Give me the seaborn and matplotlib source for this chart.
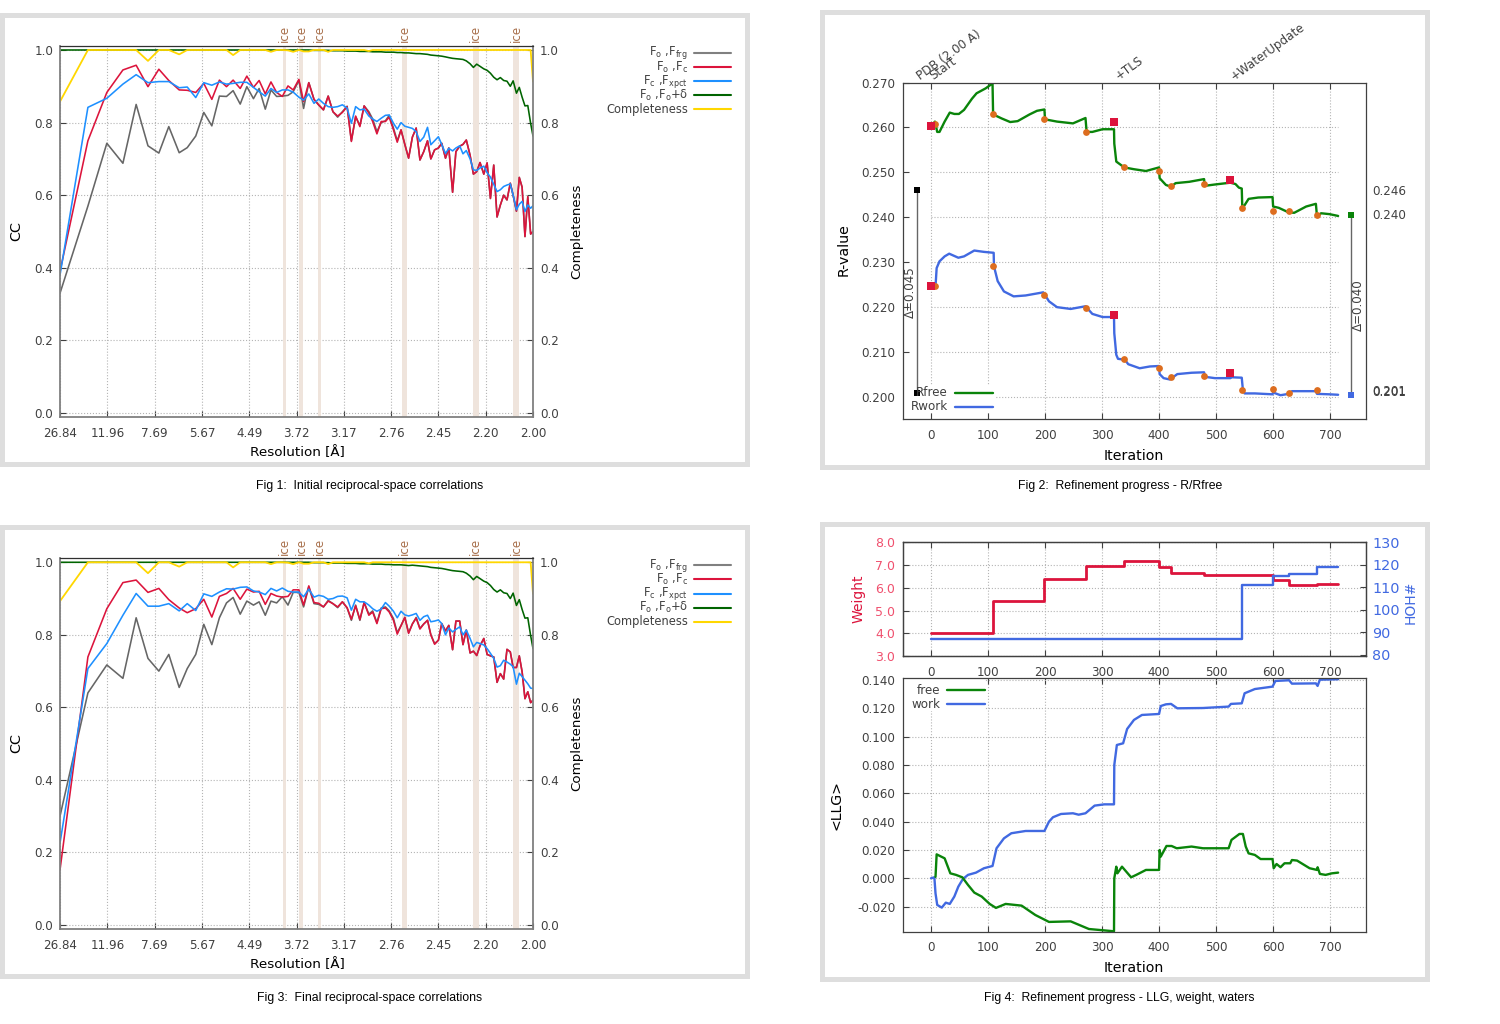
import matplotlib
matplotlib.use("Agg")
import matplotlib.pyplot as plt
from matplotlib.lines import Line2D
from matplotlib.patches import Rectangle
from matplotlib.transforms import blended_transform_factory
import seaborn as sns

WIDTH = 1500
HEIGHT = 1024

RES_LABELS = ["26.84", "11.96", "7.69", "5.67", "4.49", "3.72", "3.17", "2.76", "2.45", "2.20", "2.00"]
CC_TICKS = [0.0, 0.2, 0.4, 0.6, 0.8, 1.0]
ICE_BINS = [4.74, 5.10, 5.48, 7.29, 8.79, 9.64]
ICE_WIDTHS = [0.07, 0.09, 0.07, 0.11, 0.13, 0.11]

# resolution bins, in units of the evenly spaced tick labels
BINS = [
    0.00, 0.59, 0.99, 1.33, 1.61, 1.86, 2.09, 2.30, 2.52, 2.69,
    2.87, 3.04, 3.21, 3.37, 3.52, 3.66, 3.81, 3.95, 4.09, 4.21,
    4.34, 4.46, 4.58, 4.70, 4.82, 4.93, 5.05, 5.15, 5.26, 5.37,
    5.47, 5.57, 5.67, 5.77, 5.87, 5.97, 6.07, 6.16, 6.25, 6.34,
    6.43, 6.53, 6.61, 6.70, 6.79, 6.88, 6.96, 7.05, 7.13, 7.21,
    7.29, 7.37, 7.45, 7.53, 7.61, 7.69, 7.77, 7.84, 7.92, 8.00,
    8.07, 8.15, 8.22, 8.30, 8.37, 8.45, 8.52, 8.59, 8.67, 8.74,
    8.81, 8.88, 8.96, 9.03, 9.10, 9.17, 9.24, 9.31, 9.38, 9.45,
    9.52, 9.58, 9.65, 9.71, 9.77, 9.83, 9.89, 9.95, 10.00,
]

INITIAL_FRG = [
    0.33, 0.57, 0.743, 0.688, 0.85, 0.736, 0.716, 0.789, 0.717, 0.731,
    0.763, 0.828, 0.791, 0.873, 0.872, 0.888, 0.851, 0.899, 0.866, 0.894,
    0.837, 0.89, 0.872, 0.873, 0.875, 0.885, 0.916, 0.839, 0.91, 0.864,
    0.848, 0.835, 0.873, 0.83, 0.815, 0.83, 0.845, 0.75, 0.816, 0.792,
    0.846, 0.83, 0.81, 0.775, 0.80, 0.805, 0.82, 0.785, 0.75, 0.78,
    0.74, 0.702, 0.76, 0.785, 0.697, 0.72, 0.75, 0.70, 0.725, 0.73,
    0.743, 0.702, 0.73, 0.608, 0.72, 0.735, 0.74, 0.752, 0.71, 0.658,
    0.665, 0.69, 0.658, 0.689, 0.591, 0.683, 0.54, 0.573, 0.60, 0.587,
    0.633, 0.60, 0.556, 0.649, 0.622, 0.486, 0.596, 0.493, 0.50,
]
INITIAL_FC = [
    0.39, 0.75, 0.883, 0.945, 0.958, 0.899, 0.947, 0.916, 0.89, 0.889,
    0.883, 0.908, 0.864, 0.917, 0.899, 0.917, 0.894, 0.928, 0.897, 0.916,
    0.879, 0.912, 0.883, 0.872, 0.901, 0.89, 0.919, 0.858, 0.91, 0.864,
    0.849, 0.835, 0.873, 0.83, 0.818, 0.828, 0.844, 0.748, 0.818, 0.789,
    0.846, 0.826, 0.803, 0.769, 0.803, 0.803, 0.815, 0.78, 0.746, 0.78,
    0.74, 0.702, 0.76, 0.785, 0.697, 0.72, 0.75, 0.70, 0.725, 0.73,
    0.743, 0.702, 0.73, 0.608, 0.72, 0.735, 0.74, 0.752, 0.71, 0.658,
    0.665, 0.69, 0.658, 0.689, 0.591, 0.683, 0.54, 0.573, 0.60, 0.587,
    0.633, 0.60, 0.556, 0.649, 0.622, 0.486, 0.596, 0.493, 0.50,
]
INITIAL_XPCT = [
    0.38, 0.842, 0.867, 0.906, 0.932, 0.91, 0.913, 0.913, 0.896, 0.898,
    0.869, 0.91, 0.903, 0.912, 0.906, 0.908, 0.911, 0.911, 0.897, 0.885,
    0.873, 0.894, 0.883, 0.89, 0.89, 0.884, 0.87, 0.862, 0.879, 0.853,
    0.865, 0.853, 0.844, 0.842, 0.844, 0.849, 0.84, 0.798, 0.844, 0.835,
    0.837, 0.818, 0.81, 0.803, 0.812, 0.82, 0.821, 0.798, 0.782, 0.80,
    0.79, 0.787, 0.784, 0.775, 0.748, 0.76, 0.787, 0.739, 0.75, 0.761,
    0.74, 0.715, 0.729, 0.722, 0.73, 0.736, 0.714, 0.723, 0.70, 0.67,
    0.668, 0.675, 0.68, 0.662, 0.65, 0.63, 0.61, 0.615, 0.624, 0.628,
    0.631, 0.60, 0.56, 0.575, 0.583, 0.555, 0.573, 0.564, 0.571,
]
INITIAL_DELTA = [
    1.0, 1.0, 1.0, 1.0, 1.0, 1.0, 1.0, 1.0, 1.0, 1.0,
    1.0, 1.0, 1.0, 1.0, 1.0, 1.0, 1.0, 1.0, 1.0, 1.0,
    1.0, 1.0, 1.0, 1.0, 1.0, 1.0, 1.0, 1.0, 1.0, 0.999,
    0.999, 0.999, 0.999, 0.998, 0.998, 0.998, 0.997, 0.997, 0.997, 0.996,
    0.996, 0.996, 0.995, 0.995, 0.995, 0.994, 0.994, 0.994, 0.993, 0.993,
    0.992, 0.992, 0.991, 0.99, 0.99, 0.989, 0.988, 0.986, 0.985, 0.984,
    0.983, 0.981, 0.979, 0.977, 0.976, 0.975, 0.974, 0.97, 0.962, 0.952,
    0.961, 0.955, 0.948, 0.944, 0.936, 0.925, 0.918, 0.924, 0.916, 0.914,
    0.90, 0.915, 0.881, 0.897, 0.87, 0.846, 0.847, 0.798, 0.763,
]
INITIAL_COMPLETE = [
    0.858, 1.0, 1.0, 1.0, 1.0, 0.97, 1.0, 1.0, 0.988, 1.0,
    1.0, 1.0, 1.0, 1.0, 1.0, 0.986, 1.0, 1.0, 1.0, 1.0,
    1.0, 0.995, 1.0, 1.0, 0.999, 0.995, 1.0, 0.996, 0.996, 1.0,
    1.0, 1.0, 0.995, 1.0, 1.0, 1.0, 1.0, 1.0, 1.0, 1.0,
    1.0, 0.997, 1.0, 1.0, 1.0, 1.0, 1.0, 1.0, 1.0, 1.0,
    1.0, 1.0, 1.0, 1.0, 1.0, 1.0, 1.0, 1.0, 1.0, 1.0,
    1.0, 1.0, 1.0, 1.0, 1.0, 1.0, 1.0, 1.0, 1.0, 1.0,
    1.0, 1.0, 1.0, 1.0, 1.0, 1.0, 1.0, 1.0, 1.0, 1.0,
    1.0, 1.0, 1.0, 1.0, 1.0, 1.0, 1.0, 1.0, 0.913,
]

FINAL_FRG = [
    0.30, 0.64, 0.717, 0.68, 0.847, 0.735, 0.70, 0.746, 0.655, 0.707,
    0.746, 0.829, 0.773, 0.847, 0.888, 0.903, 0.857, 0.893, 0.882, 0.891,
    0.854, 0.893, 0.888, 0.905, 0.882, 0.917, 0.917, 0.877, 0.932, 0.886,
    0.884, 0.877, 0.895, 0.886, 0.875, 0.891, 0.874, 0.84, 0.882, 0.84,
    0.889, 0.857, 0.866, 0.834, 0.874, 0.877, 0.866, 0.845, 0.806, 0.826,
    0.848, 0.806, 0.83, 0.848, 0.818, 0.83, 0.84, 0.80, 0.776, 0.785,
    0.831, 0.811, 0.826, 0.759, 0.838, 0.838, 0.773, 0.813, 0.75, 0.755,
    0.743, 0.77, 0.79, 0.746, 0.742, 0.739, 0.669, 0.693, 0.678, 0.76,
    0.753, 0.71, 0.71, 0.742, 0.698, 0.624, 0.643, 0.613, 0.62,
]
FINAL_FC = [
    0.152, 0.739, 0.872, 0.944, 0.951, 0.917, 0.928, 0.897, 0.874, 0.861,
    0.872, 0.898, 0.849, 0.906, 0.914, 0.928, 0.898, 0.926, 0.918, 0.92,
    0.884, 0.914, 0.907, 0.904, 0.906, 0.924, 0.924, 0.882, 0.935, 0.889,
    0.887, 0.877, 0.893, 0.886, 0.877, 0.891, 0.875, 0.843, 0.88, 0.842,
    0.889, 0.854, 0.863, 0.831, 0.872, 0.874, 0.863, 0.84, 0.802, 0.825,
    0.848, 0.804, 0.83, 0.846, 0.816, 0.83, 0.84, 0.80, 0.774, 0.785,
    0.831, 0.811, 0.826, 0.759, 0.838, 0.838, 0.773, 0.813, 0.75, 0.755,
    0.743, 0.77, 0.79, 0.746, 0.742, 0.739, 0.669, 0.693, 0.678, 0.76,
    0.753, 0.71, 0.71, 0.742, 0.698, 0.624, 0.643, 0.613, 0.62,
]
FINAL_XPCT = [
    0.226, 0.707, 0.776, 0.854, 0.914, 0.879, 0.879, 0.886, 0.866, 0.886,
    0.867, 0.913, 0.906, 0.918, 0.927, 0.926, 0.931, 0.932, 0.921, 0.918,
    0.911, 0.928, 0.921, 0.929, 0.92, 0.918, 0.918, 0.905, 0.926, 0.904,
    0.909, 0.906, 0.898, 0.90, 0.906, 0.907, 0.902, 0.868, 0.898, 0.891,
    0.891, 0.882, 0.872, 0.865, 0.871, 0.889, 0.879, 0.865, 0.847, 0.865,
    0.855, 0.852, 0.855, 0.859, 0.84, 0.85, 0.854, 0.836, 0.838, 0.841,
    0.831, 0.80, 0.819, 0.808, 0.815, 0.822, 0.80, 0.813, 0.79, 0.767,
    0.779, 0.776, 0.772, 0.762, 0.749, 0.735, 0.711, 0.715, 0.73, 0.725,
    0.719, 0.712, 0.664, 0.694, 0.685, 0.675, 0.665, 0.653, 0.652,
]
FINAL_DELTA = [
    1.0, 1.0, 1.0, 1.0, 1.0, 1.0, 1.0, 1.0, 1.0, 1.0,
    1.0, 1.0, 1.0, 1.0, 1.0, 1.0, 1.0, 1.0, 1.0, 1.0,
    1.0, 1.0, 1.0, 1.0, 1.0, 1.0, 1.0, 1.0, 1.0, 0.999,
    0.999, 0.999, 0.999, 0.998, 0.998, 0.998, 0.997, 0.997, 0.997, 0.996,
    0.996, 0.996, 0.995, 0.995, 0.995, 0.994, 0.994, 0.993, 0.993, 0.993,
    0.992, 0.991, 0.992, 0.991, 0.99, 0.989, 0.988, 0.986, 0.985, 0.984,
    0.983, 0.981, 0.979, 0.977, 0.976, 0.975, 0.974, 0.97, 0.962, 0.952,
    0.961, 0.955, 0.948, 0.944, 0.936, 0.925, 0.918, 0.924, 0.916, 0.914,
    0.90, 0.915, 0.881, 0.897, 0.87, 0.846, 0.847, 0.798, 0.762,
]
FINAL_COMPLETE = [0.893] + INITIAL_COMPLETE[1:]

RFREE_ITER = [
    1, 7, 11, 15, 24, 33, 41, 49, 58, 72, 80, 96, 108, 109, 124, 139, 152, 173, 186, 199,
    200, 221, 249, 271, 273, 283, 301, 321, 321.5, 325, 339, 356, 377, 400, 401, 412, 421, 429, 453, 479,
    480, 498, 525, 534, 540, 545, 546, 550, 557, 574, 599, 600, 610, 627, 637, 658, 675, 677, 684, 699, 714,
]
RFREE_VALUES = [
    0.2603, 0.2613, 0.259, 0.259, 0.2613, 0.2633, 0.263, 0.263, 0.2639, 0.2664, 0.2676, 0.2687, 0.2698, 0.2629, 0.262, 0.2612, 0.2614, 0.2629, 0.2637, 0.264,
    0.2618, 0.2613, 0.2609, 0.2621, 0.259, 0.259, 0.2596, 0.2596, 0.2564, 0.2524, 0.2511, 0.2507, 0.2503, 0.2511, 0.2487, 0.2472, 0.2468, 0.2476, 0.2479, 0.2485,
    0.247, 0.2473, 0.2477, 0.2474, 0.2466, 0.2464, 0.242, 0.2427, 0.2441, 0.2444, 0.2445, 0.2424, 0.2421, 0.2411, 0.241, 0.2424, 0.243, 0.2401, 0.2409, 0.2407, 0.2403,
]
RWORK_ITER = [
    1, 8, 10, 15, 24, 32, 48, 58, 76, 93, 110, 110.5, 117, 128, 145, 166, 197, 207, 221, 245,
    271, 283, 301, 321, 321.5, 325, 328, 340, 346, 366, 384, 400, 401, 408, 419, 432, 457, 479, 480, 498,
    525, 526, 545, 547, 550, 568, 599, 600, 613, 627, 633, 675, 677, 699, 714,
]
RWORK_VALUES = [
    0.2246, 0.2246, 0.2287, 0.2302, 0.2313, 0.2319, 0.231, 0.2313, 0.2326, 0.2323, 0.2321, 0.2291, 0.2258, 0.2235, 0.2224, 0.2226, 0.2233, 0.2213, 0.22, 0.2196,
    0.2202, 0.2185, 0.2178, 0.2178, 0.2142, 0.2094, 0.2085, 0.2083, 0.2073, 0.2064, 0.2068, 0.2069, 0.2051, 0.2042, 0.2039, 0.2051, 0.2054, 0.2055, 0.2045, 0.2042,
    0.2042, 0.2044, 0.2043, 0.2016, 0.2008, 0.2008, 0.2006, 0.201, 0.2004, 0.2007, 0.2013, 0.2013, 0.2007, 0.2006, 0.2005,
]
STEP_ITER = [7, 109, 198, 272, 339, 400, 421, 479, 545, 599, 627, 677]
STEP_RFREE = [0.2607, 0.2629, 0.2618, 0.259, 0.2511, 0.2502, 0.2469, 0.2473, 0.2421, 0.2413, 0.2413, 0.2405]
STEP_RWORK = [0.2247, 0.2291, 0.2228, 0.2198, 0.2085, 0.2064, 0.2044, 0.2047, 0.2015, 0.2018, 0.2008, 0.2015]
MACRO_ITER = [0, 321.5, 524.6]
MACRO_RFREE = [0.2603, 0.2613, 0.2484]
MACRO_RWORK = [0.2246, 0.2182, 0.2054]
R_START = [0.246, 0.201]
R_END = [0.2405, 0.2005]
R_SIDE_LABELS = ["0.246", "0.240", "0.201", "0.201"]
R_SIDE_VALUES = [0.2458, 0.2403, 0.2012, 0.2010]
R_TICKS = [0.200, 0.210, 0.220, 0.230, 0.240, 0.250, 0.260, 0.270]
STAGE_LABELS = ["PDB (2.00 A)", "Start", "+TLS", "+WaterUpdate"]
STAGE_ITER = [-16, 8, 332, 535]

ITER_TICKS = [0, 100, 200, 300, 400, 500, 600, 700]
WEIGHT_ITER = [0, 109, 198, 272, 339, 400, 421, 479, 599, 627, 677, 714]
WEIGHT_VALUES = [4.0, 5.4, 6.39, 6.97, 7.18, 6.93, 6.67, 6.56, 6.34, 6.11, 6.18, 6.18]
WEIGHT_TICKS = [3.0, 4.0, 5.0, 6.0, 7.0, 8.0]
WATER_ITER = [0, 545, 599, 627, 677, 714]
WATER_VALUES = [87, 111, 115, 116, 119, 119]
WATER_TICKS = [80, 90, 100, 110, 120, 130]

LLG_WORK_ITER = [
    0, 6, 8, 11, 19, 26, 33, 41, 48, 56, 65, 79, 93, 108, 115, 128, 141, 166, 199, 207,
    214, 228, 249, 259, 271, 287, 304, 321, 321.5, 326, 337, 344, 356, 370, 400, 403, 412, 421, 432, 477,
    522, 526, 545, 550, 568, 599, 604, 628, 633, 675, 678, 682, 714,
]
LLG_WORK = [
    0.0, 0.0007, -0.0106, -0.0188, -0.0207, -0.0172, -0.0181, -0.0129, -0.0059, -0.0005, 0.0024, 0.004, 0.0071, 0.0087, 0.0212, 0.0282, 0.0318, 0.0334, 0.0334, 0.04,
    0.0431, 0.0454, 0.0459, 0.0449, 0.0459, 0.0513, 0.0522, 0.0522, 0.08, 0.0941, 0.0953, 0.1054, 0.1118, 0.1153, 0.116, 0.1216, 0.1228, 0.1231, 0.12, 0.1202,
    0.1212, 0.1231, 0.1235, 0.1306, 0.1336, 0.1353, 0.1393, 0.1398, 0.1374, 0.1376, 0.1358, 0.1402, 0.1405,
]
LLG_FREE_ITER = [
    8, 10, 24, 34, 44, 55, 65, 76, 89, 103, 114, 131, 159, 183, 207, 245, 277, 321, 321.5, 325,
    327, 335, 351, 360, 377, 400, 401, 403, 413, 422, 431, 457, 477, 491, 522, 527, 541, 547, 552, 557,
    568, 578, 599, 601, 606, 613, 620, 630, 633, 642, 664, 677, 678, 682, 692, 703, 714,
]
LLG_FREE = [
    0.001, 0.0169, 0.0141, 0.0035, 0.0024, 0.0007, -0.0047, -0.0101, -0.0129, -0.0181, -0.0209, -0.0181, -0.0193, -0.0259, -0.0308, -0.0304, -0.0358, -0.0374, 0.0, 0.0082,
    0.0035, 0.0082, 0.0007, 0.0024, 0.0059, 0.0059, 0.02, 0.0153, 0.0228, 0.0228, 0.0212, 0.0224, 0.0212, 0.0212, 0.0212, 0.0271, 0.0313, 0.0313, 0.0224, 0.0176,
    0.0165, 0.0136, 0.0136, 0.0071, 0.0101, 0.0078, 0.0106, 0.0106, 0.0129, 0.0125, 0.0071, 0.0059, 0.0078, 0.0031, 0.0024, 0.0035, 0.004,
]
LLG_TICKS = [-0.020, 0.000, 0.020, 0.040, 0.060, 0.080, 0.100, 0.120, 0.140]

GRAY = "#666666"
CRIMSON = "#dc143c"
SKY = "#1e90ff"
DARK_GREEN = "#006400"
GOLD = "#ffd700"
GREEN = "#0a840a"
ROYAL = "#4169e1"
ORANGE = "#dd6d1f"
TICK_TEXT = "#404040"
GRID = "#b4b4b4"
ICE_FILL = "#efe4dc"
ICE_TEXT = "#a8704c"


def px_axes(fig, left, top, right, bottom):
    return fig.add_axes([left / WIDTH, 1 - bottom / HEIGHT, (right - left) / WIDTH, (bottom - top) / HEIGHT])


def px_text(fig, x, y, text, **kwargs):
    kwargs.setdefault("color", "black")
    kwargs.setdefault("va", "center")
    kwargs.setdefault("ha", "center")
    fig.text(x / WIDTH, 1 - y / HEIGHT, text, **kwargs)


def px_line(fig, x0, x1, y, color, lw=1.5):
    fig.add_artist(Line2D([x0 / WIDTH, x1 / WIDTH], [1 - y / HEIGHT, 1 - y / HEIGHT], color=color, lw=lw))


def panel_frame(fig, left, top, right, bottom):
    fig.add_artist(Rectangle(
        (left / WIDTH, 1 - bottom / HEIGHT), (right - left) / WIDTH, (bottom - top) / HEIGHT,
        transform=fig.transFigure, facecolor="#dedede", edgecolor="none", zorder=-3,
    ))
    fig.add_artist(Rectangle(
        ((left + 5) / WIDTH, 1 - (bottom - 5) / HEIGHT), (right - left - 10) / WIDTH, (bottom - top - 10) / HEIGHT,
        transform=fig.transFigure, facecolor="white", edgecolor="none", zorder=-2,
    ))


def style_axes(ax, spine_color="#404040", side_color=None):
    ax.patch.set_alpha(0)
    ax.set_axisbelow(True)
    for name, spine in ax.spines.items():
        spine.set_visible(True)
        spine.set_color(spine_color)
        spine.set_linewidth(0.9)
    if side_color:
        for name in ["left", "right", "bottom"]:
            ax.spines[name].set_color(side_color)
            ax.spines[name].set_linewidth(1.3)
    ax.tick_params(axis="both", direction="in", length=4.5, width=0.8, color="#404040",
                   labelcolor=TICK_TEXT, labelsize=8.6)
    ax.set_xlabel("")
    ax.set_ylabel("")


def draw_line(ax, x, y, color, lw=1.7, **kwargs):
    sns.lineplot(x=x, y=y, ax=ax, color=color, lw=lw, estimator=None, sort=False, errorbar=None,
                 legend=False, **kwargs)


def draw_cc_panel(fig, top, bottom, frg, fc, xpct, delta, complete, label_y):
    ax = px_axes(fig, 60, top, 533, bottom)
    for center, width in zip(ICE_BINS, ICE_WIDTHS):
        ax.axvspan(center - width / 2, center + width / 2, color=ICE_FILL, lw=0, zorder=0.8)
    draw_line(ax, BINS, frg, GRAY, lw=1.15)
    draw_line(ax, BINS, fc, CRIMSON, lw=1.15)
    draw_line(ax, BINS, xpct, SKY, lw=1.15)
    draw_line(ax, BINS, delta, DARK_GREEN, lw=1.15)
    draw_line(ax, BINS, complete, GOLD, lw=1.3)
    ax.set_xlim(0, 10)
    ax.set_ylim(-0.011, 1.011)
    ax.set_xticks(range(len(RES_LABELS)))
    ax.set_xticklabels(RES_LABELS)
    ax.set_yticks(CC_TICKS)
    ax.set_yticklabels([f"{t:.1f}" for t in CC_TICKS])
    ax.grid(True, color=GRID, linestyle=":", lw=0.8)
    style_axes(ax, spine_color="#303030", side_color="#808080")
    ax.tick_params(axis="y", left=True, right=True, labelright=True, pad=5)
    ax.tick_params(axis="x", bottom=True, pad=7.5)
    transform = blended_transform_factory(ax.transData, ax.transAxes)
    for center in ICE_BINS:
        ax.text(center, 1.01, "ice", rotation=90, ha="center", va="bottom", fontsize=8.6,
                color=ICE_TEXT, transform=transform)
    px_text(fig, 16, label_y - 1, "CC", rotation=90, fontsize=10.4)
    px_text(fig, 577, label_y - 1, "Completeness", rotation=90, fontsize=9.6)
    px_text(fig, 297, bottom + 36, "Resolution [Å]", fontsize=9.7)
    legend_top = top + 7
    names = [r"F$_o$ ,F$_{frg}$", r"F$_o$ ,F$_c$", r"F$_c$ ,F$_{xpct}$", r"F$_o$ ,F$_o$+δ", "Completeness"]
    colors = ["#808080", CRIMSON, SKY, DARK_GREEN, GOLD]
    for i, (name, color) in enumerate(zip(names, colors)):
        y = legend_top + i * 14.1
        px_text(fig, 688, y, name, ha="right", fontsize=8.3, color=TICK_TEXT)
        px_line(fig, 694, 731, y, color)
    return ax


def draw_rfactor_panel(fig):
    ax = px_axes(fig, 903, 82.5, 1365.5, 419.3)
    ax.set_xlim(-49, 762)
    ax.set_ylim(0.19504, 0.270)
    ax.hlines(R_TICKS[:-1], 0, 714, color=GRID, linestyle=":", lw=0.8, zorder=0.5)
    ax.grid(True, axis="x", color=GRID, linestyle=":", lw=0.8)
    ax.add_patch(Rectangle((-49, 0.1964), 161, 0.0063, facecolor="white", edgecolor="none", zorder=1))
    draw_line(ax, RFREE_ITER, RFREE_VALUES, GREEN)
    draw_line(ax, RWORK_ITER, RWORK_VALUES, ROYAL)
    for values in [STEP_RFREE, STEP_RWORK]:
        sns.scatterplot(x=STEP_ITER, y=values, ax=ax, color=ORANGE, s=24, linewidth=0, legend=False, zorder=4)
    for values in [MACRO_RFREE, MACRO_RWORK]:
        sns.scatterplot(x=MACRO_ITER, y=values, ax=ax, color=CRIMSON, marker="s", s=28, linewidth=0, legend=False, zorder=5)

    ax.vlines(-25, R_START[1], R_START[0], color="#666666", lw=1.0)
    ax.vlines(737, R_END[1], R_END[0], color="#666666", lw=1.0)
    sns.scatterplot(x=[-25, -25], y=R_START, ax=ax, color="black", marker="s", s=18, linewidth=0, legend=False, zorder=5)
    sns.scatterplot(x=[737], y=[R_END[0]], ax=ax, color="#0a840a", marker="s", s=24, linewidth=0, legend=False, zorder=5)
    sns.scatterplot(x=[737], y=[R_END[1]], ax=ax, color=ROYAL, marker="s", s=24, linewidth=0, legend=False, zorder=5)

    ax.set_xticks(ITER_TICKS)
    ax.set_yticks(R_TICKS)
    ax.set_yticklabels([f"{t:.3f}" for t in R_TICKS])
    style_axes(ax)
    ax.tick_params(axis="x", top=True, bottom=True, pad=7)
    ax.tick_params(axis="y", left=True, right=False, pad=5.6)
    for x_value, label in zip(STAGE_ITER, STAGE_LABELS):
        ax.annotate(label, xy=(x_value, 0.270), xytext=(0, 0), textcoords="offset points", rotation=36,
                    rotation_mode="anchor", ha="left", va="bottom", fontsize=8.6, color=TICK_TEXT)
    for label, value in zip(R_SIDE_LABELS, R_SIDE_VALUES):
        ax.text(773, value, label, ha="left", va="center", fontsize=8.6, color=TICK_TEXT, clip_on=False)
    px_text(fig, 910, 292, "Δ=0.045", rotation=90, fontsize=8.6, color=TICK_TEXT)
    px_text(fig, 1358, 305, "Δ=0.040", rotation=90, fontsize=8.6, color=TICK_TEXT)
    px_text(fig, 844, 250, "R-value", rotation=90, fontsize=10.2)
    px_text(fig, 1134, 456, "Iteration", fontsize=10.2)
    px_text(fig, 948, 392.5, "Rfree", ha="right", fontsize=8.6, color=TICK_TEXT)
    px_text(fig, 948, 406.5, "Rwork", ha="right", fontsize=8.6, color=TICK_TEXT)
    px_line(fig, 955, 993, 392.5, GREEN, lw=1.7)
    px_line(fig, 955, 993, 406.5, ROYAL, lw=1.7)


def draw_weight_panel(fig):
    ax = px_axes(fig, 903, 542.3, 1365.5, 656)
    ax.set_xlim(-49, 762)
    ax.set_ylim(3, 8)
    ax.grid(True, color=GRID, linestyle=":", lw=0.8)
    draw_line(ax, WEIGHT_ITER, WEIGHT_VALUES, CRIMSON, lw=2.0, drawstyle="steps-post")
    ax.set_xticks(ITER_TICKS)
    ax.set_yticks(WEIGHT_TICKS)
    ax.set_yticklabels([f"{t:.1f}" for t in WEIGHT_TICKS])
    style_axes(ax)
    ax.tick_params(axis="x", top=True, bottom=True, pad=7)
    ax.tick_params(axis="y", left=True, right=False, pad=5.6, labelcolor="#f0506e", labelsize=9)

    water_ax = ax.twinx()
    draw_line(water_ax, WATER_ITER, WATER_VALUES, ROYAL, lw=1.7, drawstyle="steps-post")
    water_ax.set_ylim(79.5, 130)
    water_ax.set_yticks(WATER_TICKS)
    style_axes(water_ax)
    water_ax.tick_params(axis="y", left=False, right=True, pad=5, labelcolor=ROYAL, labelsize=10.4)
    px_text(fig, 859, 599, "Weight", rotation=90, fontsize=10, color=CRIMSON)
    px_text(fig, 1411, 602, "HOH#", rotation=90, fontsize=10, color=ROYAL)


def draw_llg_panel(fig):
    ax = px_axes(fig, 903, 677.7, 1365.5, 931.7)
    ax.set_xlim(-49, 762)
    ax.set_ylim(-0.0377, 0.1416)
    ax.grid(True, color=GRID, linestyle=":", lw=0.8)
    ax.add_patch(Rectangle((-49, 0.118), 143, 0.0236, facecolor="white", edgecolor="none", zorder=1))
    draw_line(ax, LLG_WORK_ITER, LLG_WORK, ROYAL)
    draw_line(ax, LLG_FREE_ITER, LLG_FREE, GREEN)
    ax.set_xticks(ITER_TICKS)
    ax.set_yticks(LLG_TICKS)
    ax.set_yticklabels([f"{t:.3f}" for t in LLG_TICKS])
    style_axes(ax)
    ax.tick_params(axis="x", top=True, bottom=True, pad=7)
    ax.tick_params(axis="y", left=True, right=False, pad=5.6)
    px_text(fig, 836.5, 805, "<LLG>", rotation=90, fontsize=10.2)
    px_text(fig, 1134, 967.5, "Iteration", fontsize=10.2)
    px_text(fig, 940, 690, "free", ha="right", fontsize=8.6, color=TICK_TEXT)
    px_text(fig, 940, 704, "work", ha="right", fontsize=8.6, color=TICK_TEXT)
    px_line(fig, 947, 985, 690, GREEN, lw=1.7)
    px_line(fig, 947, 985, 704, ROYAL, lw=1.7)


def main():
    sns.set_theme(style="white")
    plt.rcParams["font.family"] = ["DejaVu Sans"]
    plt.rcParams["mathtext.default"] = "regular"
    plt.rcParams["axes.unicode_minus"] = False

    fig = plt.figure(figsize=(WIDTH / 100, HEIGHT / 100), dpi=100, facecolor="white")
    panel_frame(fig, 0, 13, 750, 467)
    panel_frame(fig, 820, 10, 1430, 470)
    panel_frame(fig, 0, 525, 750, 979)
    panel_frame(fig, 820, 522, 1430, 982)

    draw_cc_panel(fig, 46, 417, INITIAL_FRG, INITIAL_FC, INITIAL_XPCT, INITIAL_DELTA, INITIAL_COMPLETE, 232)
    draw_cc_panel(fig, 558.3, 929, FINAL_FRG, FINAL_FC, FINAL_XPCT, FINAL_DELTA, FINAL_COMPLETE, 744)
    draw_rfactor_panel(fig)
    draw_weight_panel(fig)
    draw_llg_panel(fig)

    captions = [
        (370, 486.5, "Fig 1:  Initial reciprocal-space correlations"),
        (1120, 486.5, "Fig 2:  Refinement progress - R/Rfree"),
        (370, 998.5, "Fig 3:  Final reciprocal-space correlations"),
        (1119, 998.5, "Fig 4:  Refinement progress - LLG, weight, waters"),
    ]
    for x, y, text in captions:
        px_text(fig, x, y, text, fontsize=8.8, family="Liberation Sans")

    fig.savefig("out.png", dpi=100)
    plt.close(fig)


if __name__ == "__main__":
    main()
